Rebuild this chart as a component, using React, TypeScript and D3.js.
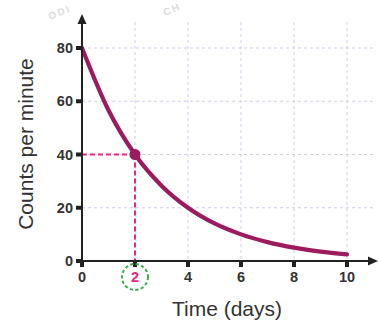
import React from "react";
import * as d3 from "d3";

const days = [0, 1, 2, 3, 4, 5, 6, 7, 8, 9, 10];
const counts = [80, 56.6, 40, 28.3, 20, 14.1, 10, 7.1, 5, 3.5, 2.5];
const xTicks = [0, 2, 4, 6, 8, 10];
const yTicks = [0, 20, 40, 60, 80];
const highlight = { day: 2, count: 40 };

export default function App() {
  const W = 379, H = 322;
  const x = d3.scaleLinear().domain([0, 10]).range([82, 347]);
  const y = d3.scaleLinear().domain([0, 80]).range([261, 48]);
  const line = d3
    .line<number>()
    .x((_, i) => x(days[i]))
    .y((d) => y(d))
    .curve(d3.curveMonotoneX);
  const axisColor = "#222";
  const gridColor = "#cfcde8";
  const font = "Arial, 'Liberation Sans', sans-serif";
  return (
    <svg width={W} height={H} style={{ position: "absolute", left: 0, top: 0, background: "#fff" }}>
      {/* grid */}
      {xTicks.filter((t) => t > 0).map((t) => (
        <line key={"gx" + t} x1={x(t)} x2={x(t)} y1={22} y2={y(0)} stroke={gridColor} strokeWidth={1} strokeDasharray="3,3" />
      ))}
      {yTicks.filter((t) => t > 0).map((t) => (
        <line key={"gy" + t} x1={x(0)} x2={374} y1={y(t)} y2={y(t)} stroke={gridColor} strokeWidth={1} strokeDasharray="3,3" />
      ))}
      {/* watermark */}
      <text x={50} y={20} fontFamily={font} fontSize={10} fill="#dcdcdc" transform="rotate(-22 50 20)" fontWeight="bold" letterSpacing={2}>ODI</text>
      <text x={165} y={16} fontFamily={font} fontSize={10} fill="#dcdcdc" transform="rotate(-22 165 16)" fontWeight="bold" letterSpacing={2}>CH</text>
      {/* highlight dashed lines */}
      <line x1={x(0)} x2={x(highlight.day)} y1={y(highlight.count)} y2={y(highlight.count)} stroke="#e8277d" strokeWidth={2} strokeDasharray="5,3" />
      <line x1={x(highlight.day)} x2={x(highlight.day)} y1={y(highlight.count)} y2={y(0)} stroke="#e8277d" strokeWidth={2} strokeDasharray="5,3" />
      {/* curve */}
      <path d={line(counts) || ""} fill="none" stroke="#9b1b5e" strokeWidth={4.2} strokeLinecap="round" />
      <circle cx={x(highlight.day)} cy={y(highlight.count)} r={5.5} fill="#9b1b5e" />
      {/* axes */}
      <line x1={x(0)} x2={x(0)} y1={y(0) + 2} y2={20} stroke={axisColor} strokeWidth={2} />
      <path d={`M${x(0) - 4.5},${24} L${x(0)},${14} L${x(0) + 4.5},${24} Z`} fill={axisColor} />
      <line x1={x(0) - 1} x2={372} y1={y(0)} y2={y(0)} stroke={axisColor} strokeWidth={2} />
      <path d={`M${368},${y(0) - 4.5} L${378},${y(0)} L${368},${y(0) + 4.5} Z`} fill={axisColor} />
      {/* y ticks */}
      {yTicks.map((t) => (
        <g key={"yt" + t}>
          <rect x={x(0) - 6} y={y(t) - 2} width={5} height={4} fill={axisColor} />
          <text x={x(0) - 9} y={y(t)} dy="0.36em" textAnchor="end" fontFamily={font} fontSize={14.5} fontWeight="bold" fill="#333">{t}</text>
        </g>
      ))}
      {/* x ticks */}
      {xTicks.map((t) => (
        <g key={"xt" + t}>
          <rect x={x(t) - 2} y={y(0) + 1} width={4} height={5} fill={axisColor} />
          <text x={x(t)} y={282} textAnchor="middle" fontFamily={font} fontSize={14.5} fontWeight="bold" fill={t === highlight.day ? "#e8277d" : "#333"}>{t}</text>
        </g>
      ))}
      <circle cx={x(highlight.day)} cy={277} r={13} fill="none" stroke="#3aaa4a" strokeWidth={2} strokeDasharray="3.2,2.4" />
      {/* axis titles */}
      <text x={227} y={316} textAnchor="middle" fontFamily={font} fontSize={21} fill="#333">Time (days)</text>
      <text transform="translate(33,144) rotate(-90)" textAnchor="middle" fontFamily={font} fontSize={21} fill="#333">Counts per minute</text>
    </svg>
  );
}
